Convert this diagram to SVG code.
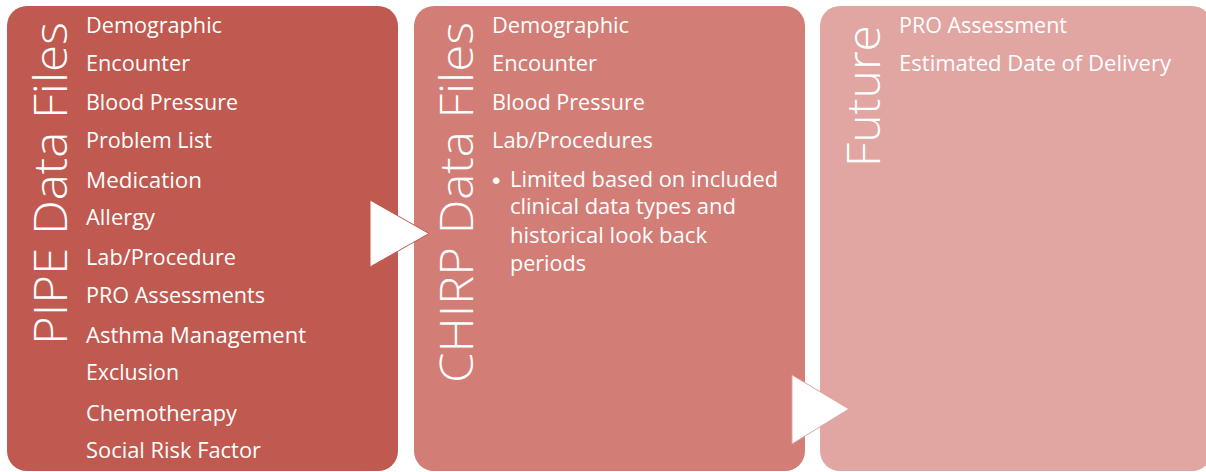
<svg xmlns="http://www.w3.org/2000/svg" width="1206" height="472" viewBox="0 0 1206 472">
<style>
.item{font-family:"Open Sans","Noto Sans","Liberation Sans",sans-serif;font-size:21px;fill:#ffffff}
.bullet{font-family:"Liberation Sans","Noto Sans",sans-serif;font-size:24px;fill:#ffffff}
.title{font-family:"Open Sans","Noto Sans","Liberation Sans",sans-serif;font-weight:300;font-size:46px;fill:#ffffff}
</style>
<rect width="1206" height="472" fill="#ffffff"/>
<g id="node-pipe">
<rect x="7" y="6" width="391" height="465" rx="20" fill="#C0594F"/>
<text class="title" transform="translate(67,345) rotate(-90)" textLength="323" lengthAdjust="spacingAndGlyphs">PIPE Data Files</text>
<text class="item" x="86" y="33" textLength="136" lengthAdjust="spacingAndGlyphs">Demographic</text>
<text class="item" x="86" y="71" textLength="104" lengthAdjust="spacingAndGlyphs">Encounter</text>
<text class="item" x="86" y="110" textLength="152" lengthAdjust="spacingAndGlyphs">Blood Pressure</text>
<text class="item" x="86" y="148" textLength="126" lengthAdjust="spacingAndGlyphs">Problem List</text>
<text class="item" x="86" y="188" textLength="116" lengthAdjust="spacingAndGlyphs">Medication</text>
<text class="item" x="86" y="225" textLength="69" lengthAdjust="spacingAndGlyphs">Allergy</text>
<text class="item" x="86" y="265" textLength="150" lengthAdjust="spacingAndGlyphs">Lab/Procedure</text>
<text class="item" x="86" y="303" textLength="179" lengthAdjust="spacingAndGlyphs">PRO Assessments</text>
<text class="item" x="86" y="343" textLength="220" lengthAdjust="spacingAndGlyphs">Asthma Management</text>
<text class="item" x="86" y="380" textLength="93" lengthAdjust="spacingAndGlyphs">Exclusion</text>
<text class="item" x="86" y="421" textLength="151" lengthAdjust="spacingAndGlyphs">Chemotherapy</text>
<text class="item" x="86" y="458" textLength="175" lengthAdjust="spacingAndGlyphs">Social Risk Factor</text>
</g>
<g id="node-chirp">
<rect x="414" y="6" width="391" height="465" rx="20" fill="#D27D76"/>
<text class="title" transform="translate(473,383) rotate(-90)" textLength="361" lengthAdjust="spacingAndGlyphs">CHIRP Data Files</text>
<text class="item" x="492" y="33" textLength="137" lengthAdjust="spacingAndGlyphs">Demographic</text>
<text class="item" x="492" y="71" textLength="105" lengthAdjust="spacingAndGlyphs">Encounter</text>
<text class="item" x="492" y="110" textLength="153" lengthAdjust="spacingAndGlyphs">Blood Pressure</text>
<text class="item" x="492" y="148" textLength="161" lengthAdjust="spacingAndGlyphs">Lab/Procedures</text>
<text class="bullet" x="492" y="189">•</text>
<text class="item" x="510" y="187" textLength="268" lengthAdjust="spacingAndGlyphs">Limited based on included</text>
<text class="item" x="510" y="214" textLength="226" lengthAdjust="spacingAndGlyphs">clinical data types and</text>
<text class="item" x="510" y="243" textLength="197" lengthAdjust="spacingAndGlyphs">historical look back</text>
<text class="item" x="510" y="271" textLength="76" lengthAdjust="spacingAndGlyphs">periods</text>
</g>
<g id="node-future">
<rect x="820" y="6" width="392" height="465" rx="20" fill="#E1A5A2"/>
<text class="title" transform="translate(880,167) rotate(-90)" textLength="142" lengthAdjust="spacingAndGlyphs">Future</text>
<text class="item" x="899" y="33" textLength="168" lengthAdjust="spacingAndGlyphs">PRO Assessment</text>
<text class="item" x="899" y="71" textLength="272" lengthAdjust="spacingAndGlyphs">Estimated Date of Delivery</text>
</g>
<g id="connectors">
<polygon points="370,200 429,233.5 370,267" fill="#ffffff" stroke="#C0594F" stroke-width="1"/>
<polygon points="792,375 849,409 792,444" fill="#ffffff" stroke="#E1A5A2" stroke-width="1"/>
</g>
</svg>
